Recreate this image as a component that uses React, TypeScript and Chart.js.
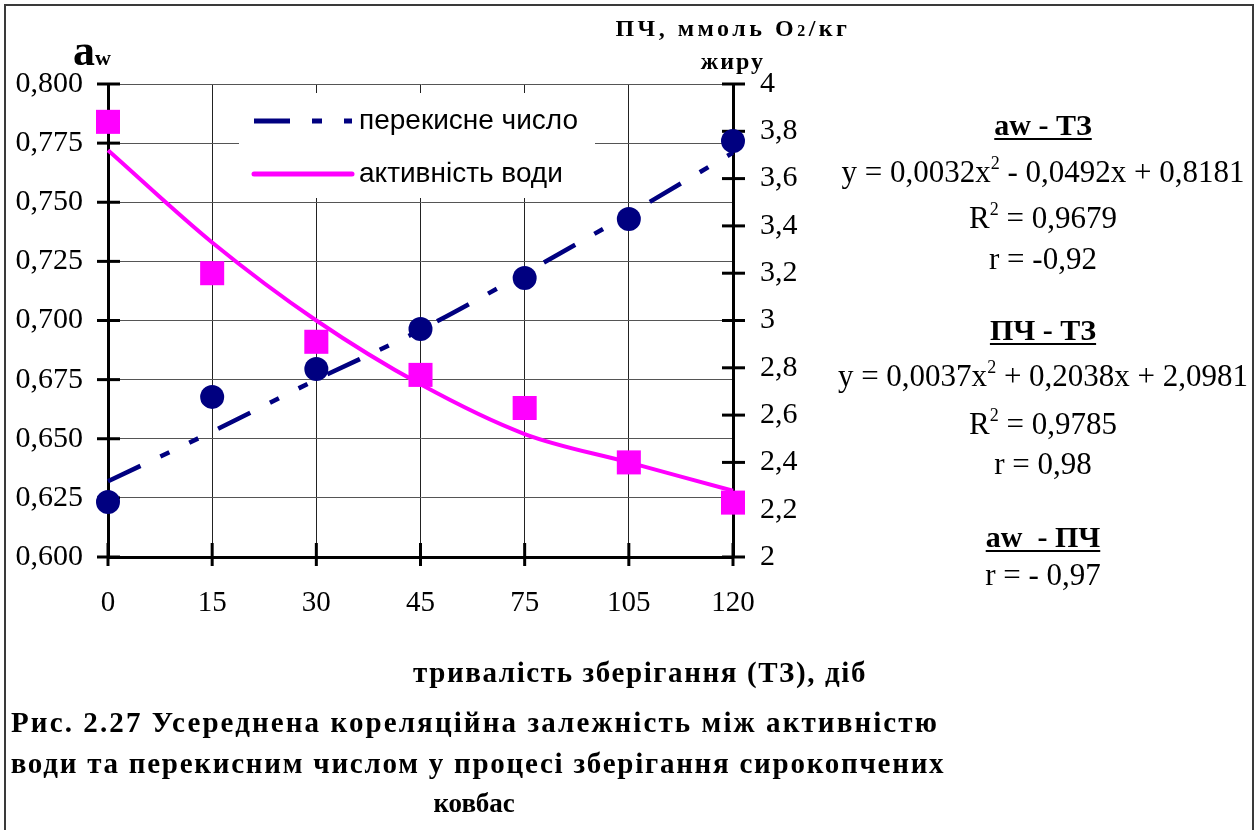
import React, { useEffect, useRef } from 'react';
import { Chart, registerables } from 'chart.js';

Chart.register(...registerables);

// ---- data ----
const days = ['0', '15', '30', '45', '75', '105', '120'];
const awMeasured = [0.784, 0.72, 0.691, 0.677, 0.663, 0.64, 0.623];
const awTrend = [0.772, 0.733, 0.7, 0.673, 0.652, 0.64, 0.628];
const pvMeasured = [2.233, 2.677, 2.795, 2.964, 3.18, 3.429, 3.759];
const pvTrend = [2.32, 2.53, 2.75, 2.96, 3.2, 3.45, 3.71];
const awTickLabels = ['0,600', '0,625', '0,650', '0,675', '0,700', '0,725', '0,750', '0,775', '0,800'];
const pvTickLabels = ['2', '2,2', '2,4', '2,6', '2,8', '3', '3,2', '3,4', '3,6', '3,8', '4'];
const legendLabels = ['перекисне число', 'активність води'];

const NAVY = '#000080';
const MAGENTA = '#ff00ff';
const SERIF = "'Liberation Serif', 'Times New Roman', serif";
const SANS = "'Liberation Sans', Arial, sans-serif";
const PV_DASH = [36, 22, 10, 22, 10, 22];

const insideLegend = {
  id: 'insideLegend',
  beforeDatasetsDraw(chart: any) {
    const { ctx, chartArea } = chart;
    const x0 = chartArea.left + 131;
    const y0 = chartArea.top + 9;
    ctx.save();
    ctx.fillStyle = '#ffffff';
    ctx.fillRect(x0, y0, 356, 105);
    const items = [
      { label: legendLabels[0], color: NAVY, dash: PV_DASH, cap: 'butt' },
      { label: legendLabels[1], color: MAGENTA, dash: [] as number[], cap: 'round' },
    ];
    items.forEach((it, i) => {
      const y = y0 + 28 + i * 53;
      ctx.beginPath();
      ctx.setLineDash(it.dash);
      ctx.lineCap = it.cap;
      ctx.lineWidth = 5;
      ctx.strokeStyle = it.color;
      ctx.moveTo(x0 + 15, y);
      ctx.lineTo(x0 + 113, y);
      ctx.stroke();
      ctx.setLineDash([]);
      ctx.fillStyle = '#000';
      ctx.font = `28px ${SANS}`;
      ctx.textBaseline = 'middle';
      ctx.textAlign = 'left';
      ctx.fillText(it.label, x0 + 120, y);
    });
    ctx.restore();
  },
};

const crossTicks = {
  id: 'crossTicks',
  beforeDatasetsDraw(chart: any) {
    const { ctx, scales } = chart;
    ctx.save();
    ctx.strokeStyle = '#000';
    ctx.lineWidth = 3;
    ctx.setLineDash([]);
    const seg = (x1: number, y1: number, x2: number, y2: number) => {
      ctx.beginPath();
      ctx.moveTo(x1, y1);
      ctx.lineTo(x2, y2);
      ctx.stroke();
    };
    const yl = scales.yAw;
    yl.ticks.forEach((_t: any, i: number) => {
      const p = yl.getPixelForTick(i);
      seg(yl.right - 11, p, yl.right + 12, p);
    });
    const yr = scales.yPv;
    yr.ticks.forEach((_t: any, i: number) => {
      const p = yr.getPixelForTick(i);
      seg(yr.left - 11, p, yr.left + 12, p);
    });
    const xs = scales.x;
    xs.ticks.forEach((_t: any, i: number) => {
      const p = xs.getPixelForTick(i);
      seg(p, xs.top - 14, p, xs.top + 9);
    });
    ctx.restore();
  },
};

function ChartCanvas() {
  const ref = useRef<HTMLCanvasElement | null>(null);
  useEffect(() => {
    if (!ref.current) return;
    const chart = new Chart(ref.current, {
      type: 'line',
      data: {
        labels: days,
        datasets: [
          {
            label: 'pv points',
            data: pvMeasured,
            yAxisID: 'yPv',
            showLine: false,
            pointStyle: 'circle',
            pointRadius: 12,
            pointBackgroundColor: NAVY,
            pointBorderWidth: 0,
            borderColor: NAVY,
          },
          {
            label: 'aw points',
            data: awMeasured,
            yAxisID: 'yAw',
            showLine: false,
            pointStyle: 'rect',
            pointRadius: 17,
            pointBackgroundColor: MAGENTA,
            pointBorderWidth: 0,
            borderColor: MAGENTA,
          },
          {
            label: legendLabels[0],
            data: pvTrend,
            yAxisID: 'yPv',
            borderColor: NAVY,
            borderWidth: 4.5,
            borderDash: PV_DASH,
            pointRadius: 0,
            cubicInterpolationMode: 'monotone',
            fill: false,
          },
          {
            label: legendLabels[1],
            data: awTrend,
            yAxisID: 'yAw',
            borderColor: MAGENTA,
            borderWidth: 4,
            pointRadius: 0,
            cubicInterpolationMode: 'monotone',
            fill: false,
          },
        ],
      },
      options: {
        responsive: false,
        animation: false,
        events: [],
        layout: { padding: { left: 0, right: 447, top: 84, bottom: 173 } },
        plugins: { legend: { display: false }, tooltip: { enabled: false }, title: { display: false } },
        scales: {
          x: {
            type: 'category',
            offset: false,
            grid: { color: '#222', lineWidth: 1, drawTicks: false },
            border: { display: true, color: '#000', width: 3 },
            ticks: { color: '#000', font: { family: SERIF, size: 29 }, padding: 29, maxRotation: 0, autoSkip: false },
            afterFit: (s: any) => { s.height = 100; },
          },
          yAw: {
            type: 'linear',
            position: 'left',
            min: 0.6,
            max: 0.8,
            ticks: {
              stepSize: 0.025,
              color: '#000',
              font: { family: SERIF, size: 30 },
              padding: 25,
              callback: (_v: any, i: number) => awTickLabels[i],
            },
            grid: { color: '#555', lineWidth: 1, drawTicks: false },
            border: { display: true, color: '#000', width: 3 },
            afterFit: (s: any) => { s.width = 108; },
          },
          yPv: {
            type: 'linear',
            position: 'right',
            min: 2,
            max: 4,
            ticks: {
              stepSize: 0.2,
              color: '#000',
              font: { family: SERIF, size: 30 },
              padding: 27,
              callback: (_v: any, i: number) => pvTickLabels[i],
            },
            grid: { display: false, drawTicks: false },
            border: { display: true, color: '#000', width: 3 },
            afterFit: (s: any) => { s.width = 80; },
          },
        },
      } as any,
      plugins: [insideLegend, crossTicks],
    });
    return () => chart.destroy();
  }, []);
  return (
    <canvas
      ref={ref}
      width={1260}
      height={830}
      style={{ position: 'absolute', left: 0, top: 0, width: 1260, height: 830 }}
    />
  );
}

const abs = (left: number, top: number, extra: React.CSSProperties = {}): React.CSSProperties => ({
  position: 'absolute',
  left,
  top,
  whiteSpace: 'pre',
  ...extra,
});

const Sup = ({ children }: { children: React.ReactNode }) => (
  <span style={{ fontSize: 18, position: 'relative', top: -13, lineHeight: 0 }}>{children}</span>
);

export default function App() {
  const colText: React.CSSProperties = {
    fontFamily: SERIF,
    fontSize: 31,
    lineHeight: '34px',
    width: 420,
    textAlign: 'center',
    color: '#000',
  };
  const head: React.CSSProperties = {
    ...colText,
    fontSize: 30,
    fontWeight: 'bold',
  };
  const u: React.CSSProperties = {
    textDecoration: 'underline',
    textDecorationThickness: '2px',
    textUnderlineOffset: '3px',
  };
  const capStyle: React.CSSProperties = {
    fontFamily: SERIF,
    fontWeight: 'bold',
    fontSize: 29,
    lineHeight: '36px',
    color: '#000',
    width: 1000,
    textAlign: 'center',
  };
  return (
    <div
      style={{
        position: 'absolute',
        left: 0,
        top: 0,
        width: 1260,
        height: 830,
        overflow: 'hidden',
        background: '#fff',
      }}
    >
      <ChartCanvas />
      <div
        style={{
          position: 'absolute',
          left: 4,
          top: 4,
          width: 1250,
          height: 900,
          border: '2px solid #3a3a3a',
          boxSizing: 'border-box',
        }}
      />
      {/* left axis title */}
      <div style={abs(73, 29, { fontFamily: SERIF, fontWeight: 'bold', fontSize: 44, lineHeight: 1 })}>
        a<span style={{ fontSize: 22 }}>w</span>
      </div>
      {/* right axis title */}
      <div
        style={abs(433, 13, {
          width: 600,
          textAlign: 'center',
          fontFamily: SERIF,
          fontWeight: 'bold',
          fontSize: 24,
          lineHeight: '30px',
          letterSpacing: 3.5,
        })}
      >
        ПЧ, ммоль О<span style={{ fontSize: 16 }}>2</span>/кг
        {'\n'}
        <span style={{ letterSpacing: 2 }}>жиру</span>
      </div>
      {/* right-hand annotation column */}
      <div style={abs(833, 108, head)}><span style={u}>aw - ТЗ</span></div>
      <div style={abs(833, 155, colText)}>y = 0,0032x<Sup>2</Sup> - 0,0492x + 0,8181</div>
      <div style={abs(833, 201, colText)}>R<Sup>2</Sup> = 0,9679</div>
      <div style={abs(833, 242, colText)}>r = -0,92</div>
      <div style={abs(833, 313, head)}><span style={u}>ПЧ - ТЗ</span></div>
      <div style={abs(833, 359, colText)}>y = 0,0037x<Sup>2</Sup> + 0,2038x + 2,0981</div>
      <div style={abs(833, 407, colText)}>R<Sup>2</Sup> = 0,9785</div>
      <div style={abs(833, 447, colText)}>r = 0,98</div>
      <div style={abs(833, 520, head)}><span style={u}>aw  - ПЧ</span></div>
      <div style={abs(833, 558, colText)}>r = - 0,97</div>
      {/* x axis title and caption */}
      <div style={abs(140, 654, { ...capStyle, letterSpacing: 1.6 })}>тривалість зберігання (ТЗ), діб</div>
      <div style={abs(-25, 704, { ...capStyle, letterSpacing: 2.1 })}>Рис. 2.27 Усереднена кореляційна залежність між активністю</div>
      <div style={abs(-22, 745, { ...capStyle, letterSpacing: 1.75 })}>води та перекисним числом у процесі зберігання сирокопчених</div>
      <div style={abs(-26, 785, { ...capStyle, fontSize: 27, letterSpacing: 0 })}>ковбас</div>
    </div>
  );
}
